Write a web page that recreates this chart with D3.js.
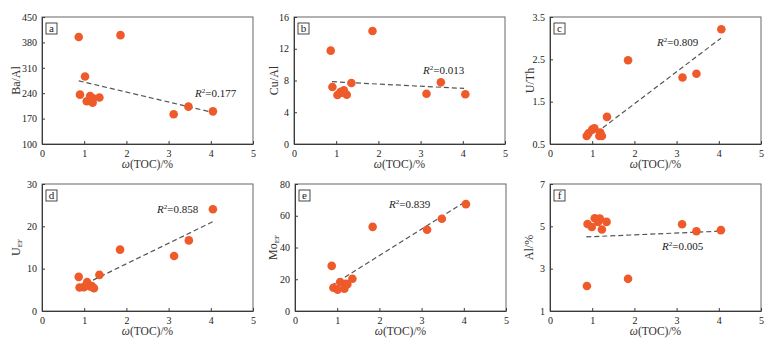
<!DOCTYPE html>
<html><head><meta charset="utf-8">
<script src="https://cdn.jsdelivr.net/npm/d3@7"></script>
<style>
html,body{margin:0;padding:0;background:#fff;}
svg{display:block;}
svg text{font-family:"Liberation Serif","Times New Roman",serif !important;}
</style></head>
<body><svg id="c" width="778" height="348"></svg>
<script>
// ---- data ----
const xTicks = [0, 1, 2, 3, 4, 5];
const xDomain = [0, 5];

const aTOC = [0.87, 0.90, 1.02, 1.06, 1.14, 1.21, 1.20, 1.36, 1.86, 3.12, 3.47, 4.05];
const aBaAl = [395, 236, 286, 218, 232, 226, 214, 228, 400, 182, 203, 190];
const aTicks = [100, 170, 240, 310, 380, 450];
const aTrend = [[0.87, 274], [4.05, 187]];

const bTOC = [0.87, 0.91, 1.03, 1.10, 1.14, 1.18, 1.25, 1.36, 1.86, 3.14, 3.48, 4.06];
const bCuAl = [11.76, 7.18, 6.17, 6.55, 6.45, 6.76, 6.2, 7.69, 14.24, 6.34, 7.77, 6.26];
const bTicks = [0, 4, 8, 12, 16];
const bTrend = [[0.9, 7.85], [4.03, 7.0]];

const cTOC = [0.87, 0.91, 1.0, 1.05, 1.17, 1.19, 1.23, 1.35, 1.85, 3.14, 3.47, 4.06];
const cUTh = [0.69, 0.75, 0.84, 0.87, 0.69, 0.77, 0.69, 1.14, 2.48, 2.07, 2.16, 3.21];
const cTicks = [0.5, 1.5, 2.5, 3.5];
const cTrend = [[1.1, 0.77], [4.05, 3.0]];

const dTOC = [0.87, 0.89, 0.99, 1.07, 1.14, 1.18, 1.23, 1.36, 1.85, 3.13, 3.48, 4.05];
const dUEF = [8.07, 5.56, 5.64, 6.81, 5.8, 5.87, 5.4, 8.54, 14.49, 13.0, 16.68, 24.04];
const dTicks = [0, 10, 20, 30];
const dTrend = [[1.21, 7.3], [4.05, 21.1]];

const eTOC = [0.87, 0.91, 1.01, 1.07, 1.17, 1.2, 1.24, 1.36, 1.84, 3.13, 3.48, 4.05];
const eMoEF = [28.4, 14.6, 13.4, 18.2, 14.0, 17.1, 16.9, 20.3, 53.0, 51.2, 58.1, 67.3];
const eTicks = [0, 20, 40, 60, 80];
const eTrend = [[0.86, 15.9], [3.99, 68.1]];

const fTOC = [0.875, 0.89, 0.99, 1.06, 1.14, 1.18, 1.23, 1.34, 1.85, 3.13, 3.47, 4.05];
const fAl = [2.18, 5.11, 4.97, 5.38, 5.21, 5.37, 4.85, 5.21, 2.52, 5.1, 4.77, 4.82];
const fTicks = [1, 3, 5, 7];
const fTrend = [[0.86, 4.5], [4.01, 4.77]];

const labels = ["a", "b", "c", "d", "e", "f"];
const r2Text = ["0.177", "0.013", "0.809", "0.858", "0.839", "0.005"];

// ---- layout ----
const panels = [
  {x: aTOC, y: aBaAl, ticks: aTicks, trend: aTrend, yt: ["Ba/Al", null], left: 42, top: 17, ytOff: 26, r2: [153, 80]},
  {x: bTOC, y: bCuAl, ticks: bTicks, trend: bTrend, yt: ["Cu/Al", null], left: 294, top: 17, ytOff: 20, r2: [129, 57]},
  {x: cTOC, y: cUTh, ticks: cTicks, trend: cTrend, yt: ["U/Th", null], left: 550, top: 17, ytOff: 20, r2: [107, 29]},
  {x: dTOC, y: dUEF, ticks: dTicks, trend: dTrend, yt: ["U", "EF"], left: 42, top: 184, ytOff: 26, r2: [115, 29]},
  {x: eTOC, y: eMoEF, ticks: eTicks, trend: eTrend, yt: ["Mo", "EF"], left: 295, top: 184, ytOff: 22, r2: [94, 24]},
  {x: fTOC, y: fAl, ticks: fTicks, trend: fTrend, yt: ["Al/%", null], left: 550, top: 184, ytOff: 21, r2: [112, 66]}
];
const W = 211, H = 127;
const axisColor = "#3a3a3a", dotColor = "#EF5A2A";
const FONT = "'Liberation Serif', 'Times New Roman', serif";

const svg = d3.select("#c");

panels.forEach((p, i) => {
  const g = svg.append("g").attr("transform", `translate(${p.left},${p.top})`);
  const x = d3.scaleLinear().domain(xDomain).range([0, W]);
  const y = d3.scaleLinear().domain([p.ticks[0], p.ticks[p.ticks.length - 1]]).range([H, 0]);

  // frame
  g.append("rect").attr("x", 0).attr("y", 0).attr("width", W).attr("height", H)
    .attr("fill", "none").attr("stroke", "#666").attr("stroke-width", 1);

  // axes (ticks inward)
  const xa = g.append("g").attr("transform", `translate(0,${H})`)
    .call(d3.axisBottom(x).tickValues(xTicks).tickSizeInner(-3).tickSizeOuter(0).tickPadding(6).tickFormat(d3.format("d")));
  const ya = g.append("g")
    .call(d3.axisLeft(y).tickValues(p.ticks).tickSizeInner(-3).tickSizeOuter(0).tickPadding(5).tickFormat(d => String(d)));
  [xa, ya].forEach(a => {
    a.attr("font-family", null).attr("font-size", null);
    a.select(".domain").attr("stroke", axisColor);
    a.selectAll(".tick line").attr("stroke", axisColor);
    a.selectAll(".tick text").style("font-family", FONT).style("font-size", "10px").attr("fill", "#222");
  });

  // trend line
  g.append("line")
    .attr("x1", x(p.trend[0][0])).attr("y1", y(p.trend[0][1]))
    .attr("x2", x(p.trend[1][0])).attr("y2", y(p.trend[1][1]))
    .attr("stroke", "#555").attr("stroke-width", 1.2).attr("stroke-dasharray", "5,3");

  // points
  g.selectAll("circle.pt").data(p.x.map((v, k) => [v, p.y[k]])).enter()
    .append("circle").attr("class", "pt")
    .attr("cx", d => x(d[0])).attr("cy", d => y(d[1])).attr("r", 4.3)
    .attr("fill", dotColor);

  // panel letter box
  g.append("rect").attr("x", 4).attr("y", 6).attr("width", 11).attr("height", 11)
    .attr("fill", "#fff").attr("stroke", "#333").attr("stroke-width", 0.9);
  g.append("text").attr("x", 9.5).attr("y", 15).attr("text-anchor", "middle")
    .style("font-family", FONT).style("font-size", "11px").attr("fill", "#222").text(labels[i]);

  // R^2 label
  const t = g.append("text").attr("x", p.r2[0]).attr("y", p.r2[1])
    .style("font-family", FONT).style("font-size", "11px").attr("fill", "#222");
  t.append("tspan").attr("font-style", "italic").text("R");
  t.append("tspan").style("font-size", "7px").attr("dy", -4).text("2");
  t.append("tspan").attr("dy", 4).text("=" + r2Text[i]);

  // x title
  const xt = g.append("text").attr("x", W / 2).attr("y", H + 24).attr("text-anchor", "middle")
    .style("font-family", FONT).style("font-size", "11.5px").attr("fill", "#333");
  xt.append("tspan").attr("font-style", "italic").text("ω");
  xt.append("tspan").text("(TOC)/%");

  // y title
  const ytEl = g.append("text")
    .attr("transform", `translate(${-p.ytOff + 4},${H / 2}) rotate(-90)`)
    .attr("text-anchor", "middle").style("font-family", FONT).style("font-size", "12px").attr("fill", "#333");
  ytEl.append("tspan").text(p.yt[0]);
  if (p.yt[1]) ytEl.append("tspan").style("font-size", "7px").attr("dy", 2).text(p.yt[1]);
});
</script>
</body></html>
